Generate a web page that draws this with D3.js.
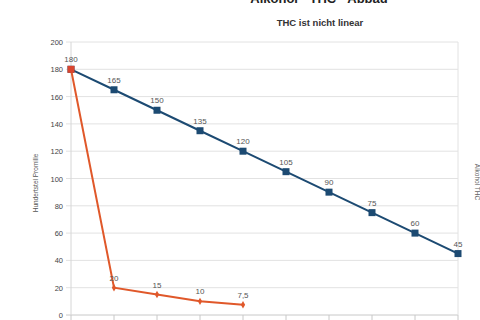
<!DOCTYPE html>
<html>
<head>
<meta charset="utf-8">
<script src="https://cdn.jsdelivr.net/npm/d3@7"></script>
<style>
  body { margin: 0; background: #fff; }
  svg { display: block; font-family: "Liberation Sans", Arial, sans-serif; }
</style>
</head>
<body>
<div id="chart"></div>
<script>
// Data
const steps = ["1", "2", "3", "4", "5", "6", "7", "8", "9", "10"];
const alkohol = [180, 165, 150, 135, 120, 105, 90, 75, 60, 45];
const thc = [180, 20, 15, 10, 7.5];
const thcLabels = ["180", "20", "15", "10", "7,5"];
const yTicks = [0, 20, 40, 60, 80, 100, 120, 140, 160, 180, 200];

const width = 480, height = 320;
const margin = { top: 42, right: 22, bottom: 5, left: 71 };

const svg = d3.select("#chart")
    .append("svg")
    .attr("width", width)
    .attr("height", height);

const x = d3.scalePoint()
    .domain(steps)
    .range([margin.left, width - margin.right]);

const y = d3.scaleLinear()
    .domain([0, 200])
    .range([height - margin.bottom, margin.top]);

// Titles (the screenshot is cropped at the top)
svg.append("text")
    .attr("x", 319).attr("y", 3)
    .attr("text-anchor", "middle")
    .attr("font-size", 13).attr("font-weight", "bold")
    .attr("fill", "#222")
    .text("Alkohol - THC - Abbau");

svg.append("text")
    .attr("x", 320).attr("y", 26)
    .attr("text-anchor", "middle")
    .attr("font-size", 9.5).attr("font-weight", "bold")
    .attr("fill", "#333")
    .text("THC ist nicht linear");

// Horizontal gridlines
svg.append("g")
    .selectAll("line")
    .data(yTicks)
    .join("line")
    .attr("x1", margin.left - 5)
    .attr("x2", width - margin.right)
    .attr("y1", d => y(d))
    .attr("y2", d => y(d))
    .attr("stroke", d => d === 0 ? "#c8c8c8" : "#e2e2e2")
    .attr("stroke-width", 1);

// Left axis line and right border
svg.append("line")
    .attr("x1", margin.left).attr("x2", margin.left)
    .attr("y1", y(200)).attr("y2", y(0))
    .attr("stroke", "#d6d6d6");
svg.append("line")
    .attr("x1", width - margin.right).attr("x2", width - margin.right)
    .attr("y1", y(200)).attr("y2", y(0))
    .attr("stroke", "#e2e2e2");

// Bottom tick marks
svg.append("g")
    .selectAll("line")
    .data(steps)
    .join("line")
    .attr("x1", d => x(d)).attr("x2", d => x(d))
    .attr("y1", y(0)).attr("y2", y(0) + 6)
    .attr("stroke", "#c8c8c8");

// Y tick labels
svg.append("g")
    .selectAll("text")
    .data(yTicks)
    .join("text")
    .attr("x", margin.left - 8)
    .attr("y", d => y(d) + 3)
    .attr("text-anchor", "end")
    .attr("font-size", 7.5)
    .attr("fill", "#444")
    .text(d => d);

// Y axis title
svg.append("text")
    .attr("transform", `translate(38, 183) rotate(-90)`)
    .attr("text-anchor", "middle")
    .attr("font-size", 6.5)
    .attr("fill", "#555")
    .text("Hundertstel Promille");

// Legend text, cut by the right edge in the screenshot
svg.append("text")
    .attr("transform", `translate(475, 182) rotate(90)`)
    .attr("text-anchor", "middle")
    .attr("font-size", 6.5)
    .attr("fill", "#666")
    .text("Alkohol THC");

const line = d3.line()
    .x((d, i) => x(steps[i]))
    .y(d => y(d));

// Alkohol series (navy, square markers)
svg.append("path")
    .datum(alkohol)
    .attr("d", line)
    .attr("fill", "none")
    .attr("stroke", "#1c4a72")
    .attr("stroke-width", 2);

svg.append("g")
    .selectAll("rect")
    .data(alkohol)
    .join("rect")
    .attr("x", (d, i) => x(steps[i]) - 3.5)
    .attr("y", d => y(d) - 3.5)
    .attr("width", 7).attr("height", 7)
    .attr("fill", "#1c4a72");

svg.append("g")
    .selectAll("text")
    .data(alkohol)
    .join("text")
    .attr("x", (d, i) => x(steps[i]))
    .attr("y", d => y(d) - 7)
    .attr("text-anchor", "middle")
    .attr("font-size", 8)
    .attr("fill", "#555")
    .text((d, i) => i === 0 ? "" : d);

// THC series (orange, small diamond markers)
svg.append("path")
    .datum(thc)
    .attr("d", line)
    .attr("fill", "none")
    .attr("stroke", "#e0582a")
    .attr("stroke-width", 2);

svg.append("g")
    .selectAll("path")
    .data(thc)
    .join("path")
    .attr("d", (d, i) => i === 0
        ? d3.symbol().type(d3.symbolSquare).size(49)()
        : d3.symbol().type(d3.symbolDiamond).size(16)())
    .attr("transform", (d, i) => `translate(${x(steps[i])},${y(d)})`)
    .attr("fill", (d, i) => i === 0 ? "#d9452e" : "#e0582a");

svg.append("g")
    .selectAll("text")
    .data(thc)
    .join("text")
    .attr("x", (d, i) => x(steps[i]))
    .attr("y", d => y(d) - 7)
    .attr("text-anchor", "middle")
    .attr("font-size", 8)
    .attr("fill", "#555")
    .text((d, i) => thcLabels[i]);
</script>
</body>
</html>
